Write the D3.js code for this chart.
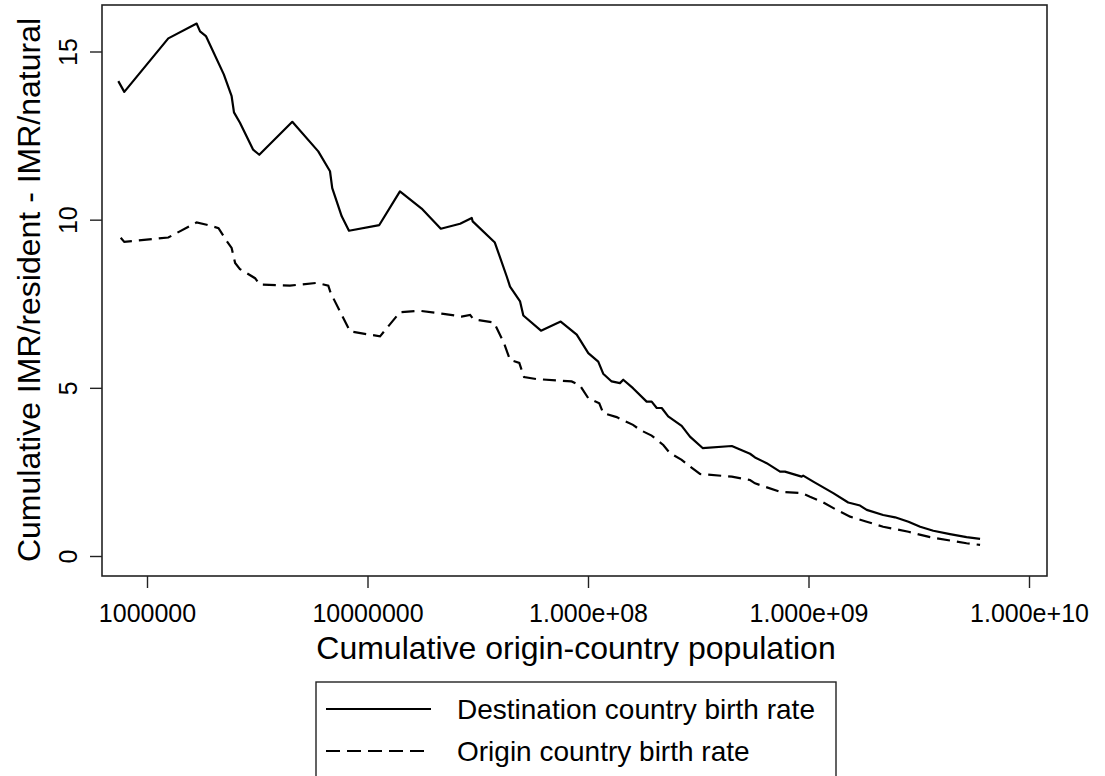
<!DOCTYPE html>
<html>
<head>
<meta charset="utf-8">
<script src="https://cdn.jsdelivr.net/npm/d3@7"></script>
<style>
  body { margin: 0; background: #fff; }
  svg { display: block; font-family: "Liberation Sans", Arial, sans-serif; }
</style>
</head>
<body>
<svg id="chart" width="1105" height="776"></svg>
<script>
// cumulative origin-country population (x) and cumulative IMR gap (y)
const destX = [7.41e5, 7.89e5, 1.249e6, 1.68e6, 1.74e6, 1.85e6, 2.23e6, 2.42e6, 2.48e6, 2.64e6,
  3.03e6, 3.23e6, 4.56e6, 5.98e6, 6.76e6, 6.92e6, 7.64e6, 8.24e6, 1.131e7, 1.403e7,
  1.76e7, 2.15e7, 2.63e7, 2.97e7, 3.0e7, 3.78e7, 4.28e7, 4.43e7, 4.92e7, 5.09e7,
  6.12e7, 7.52e7, 8.89e7, 1.003e8, 1.113e8, 1.172e8, 1.28e8, 1.396e8, 1.445e8, 1.6e8,
  1.845e8, 1.944e8, 2.05e8, 2.16e8, 2.31e8, 2.66e8, 2.9e8, 3.31e8, 4.49e8, 5.43e8,
  5.72e8, 6.46e8, 7.43e8, 7.82e8, 9.31e8, 9.46e8, 1.051e9, 1.295e9, 1.514e9, 1.713e9,
  1.837e9, 2.18e9, 2.47e9, 2.84e9, 3.21e9, 3.68e9, 4.38e9, 5.21e9, 6.0e9];
const destY = [14.12, 13.80, 15.39, 15.83, 15.60, 15.46, 14.32, 13.67, 13.19, 12.88,
  12.08, 11.93, 12.91, 12.03, 11.44, 10.94, 10.10, 9.67, 9.84, 10.84,
  10.33, 9.73, 9.88, 10.05, 9.95, 9.32, 8.31, 8.01, 7.57, 7.15,
  6.70, 6.97, 6.58, 6.03, 5.78, 5.42, 5.19, 5.14, 5.24, 4.99,
  4.59, 4.59, 4.40, 4.40, 4.15, 3.87, 3.55, 3.21, 3.27, 3.04,
  2.93, 2.76, 2.51, 2.51, 2.36, 2.39, 2.21, 1.87, 1.59, 1.50,
  1.37, 1.22, 1.15, 1.02, 0.87, 0.75, 0.65, 0.56, 0.51];

const origX = [7.6e5, 7.89e5, 1.249e6, 1.68e6, 1.865e6, 2.11e6, 2.28e6, 2.42e6, 2.51e6, 2.64e6,
  3.09e6, 3.25e6, 4.45e6, 4.94e6, 5.88e6, 6.64e6, 6.81e6, 8.33e6, 1.14e7, 1.403e7,
  1.73e7, 2.21e7, 2.67e7, 2.92e7, 3.02e7, 3.75e7, 4.16e7, 4.43e7, 4.88e7, 5.13e7,
  5.85e7, 8.43e7, 9.2e7, 1.003e8, 1.125e8, 1.172e8, 1.349e8, 1.6e8, 1.72e8, 1.944e8,
  2.195e8, 2.35e8, 2.66e8, 2.9e8, 3.22e8, 4.49e8, 5.43e8, 5.72e8, 7.43e8, 9.31e8,
  1.016e9, 1.146e9, 1.342e9, 1.545e9, 1.837e9, 2.18e9, 2.47e9, 2.84e9, 3.56e9, 4.38e9,
  5.21e9, 6.0e9];
const origY = [9.46, 9.34, 9.47, 9.92, 9.85, 9.75, 9.40, 9.16, 8.71, 8.53,
  8.26, 8.07, 8.04, 8.07, 8.12, 8.04, 7.82, 6.68, 6.53, 7.25,
  7.29, 7.20, 7.12, 7.17, 7.04, 6.94, 6.33, 5.83, 5.74, 5.32,
  5.26, 5.19, 5.07, 4.69, 4.54, 4.25, 4.13, 3.90, 3.75, 3.58,
  3.30, 3.06, 2.86, 2.66, 2.44, 2.36, 2.26, 2.16, 1.91, 1.87,
  1.76, 1.62, 1.37, 1.17, 1.02, 0.87, 0.80, 0.72, 0.56, 0.46,
  0.38, 0.33];

const xTicks = [1e6, 1e7, 1e8, 1e9, 1e10];
const yTicks = [0, 5, 10, 15];
const seriesNames = ['Destination country birth rate', 'Origin country birth rate'];

const svg = d3.select('#chart');
const box = { left: 102, right: 1047, top: 5, bottom: 576 };

const x = d3.scaleLog().domain([1e6, 1e10]).range([147, 1029]);
const y = d3.scaleLinear().domain([0, 15]).range([556, 51.5]);

const fmtX = (v) => {
  if (v < 1e8) return d3.format('d')(v);
  const e = Math.round(Math.log10(v));
  return `${(v / Math.pow(10, e)).toFixed(3)}e+${String(e).padStart(2, '0')}`;
};

// plot frame
svg.append('rect')
  .attr('x', box.left).attr('y', box.top)
  .attr('width', box.right - box.left).attr('height', box.bottom - box.top)
  .attr('fill', 'none').attr('stroke', '#222').attr('stroke-width', 1.6);

const xAxis = svg.append('g')
  .attr('transform', `translate(0,${box.bottom})`)
  .call(d3.axisBottom(x).tickValues(xTicks).tickFormat(fmtX).tickSize(12).tickSizeOuter(0));
xAxis.select('.domain').remove();
xAxis.selectAll('line').attr('stroke', '#222').attr('stroke-width', 1.4);
xAxis.selectAll('text')
  .attr('y', 28).attr('font-size', 25).attr('fill', '#000')
  .attr('font-family', '"Liberation Sans", Arial, sans-serif');

const yAxis = svg.append('g')
  .attr('transform', `translate(${box.left},0)`)
  .call(d3.axisLeft(y).tickValues(yTicks).tickSize(12).tickSizeOuter(0));
yAxis.select('.domain').remove();
yAxis.selectAll('line').attr('stroke', '#222').attr('stroke-width', 1.4);
yAxis.selectAll('text')
  .attr('x', 0).attr('dy', 0).attr('y', 0)
  .attr('text-anchor', 'middle')
  .attr('transform', 'translate(-25,0) rotate(-90)')
  .attr('font-size', 25).attr('fill', '#000')
  .attr('font-family', '"Liberation Sans", Arial, sans-serif');

// axis titles
svg.append('text')
  .attr('x', 576).attr('y', 659)
  .attr('text-anchor', 'middle').attr('font-size', 32)
  .text('Cumulative origin-country population');

svg.append('text')
  .attr('transform', 'translate(40,290) rotate(-90)')
  .attr('text-anchor', 'middle').attr('font-size', 32)
  .text('Cumulative IMR/resident - IMR/natural');

// lines
const line = d3.line().x((d) => x(d[0])).y((d) => y(d[1]));

svg.append('path')
  .datum(d3.zip(destX, destY))
  .attr('d', line)
  .attr('fill', 'none').attr('stroke', '#000').attr('stroke-width', 2.2)
  .attr('stroke-linejoin', 'round');

svg.append('path')
  .datum(d3.zip(origX, origY))
  .attr('d', line)
  .attr('fill', 'none').attr('stroke', '#000').attr('stroke-width', 2.2)
  .attr('stroke-dasharray', '13,7');

// legend
const legend = svg.append('g');
legend.append('rect')
  .attr('x', 316).attr('y', 682).attr('width', 520).attr('height', 120)
  .attr('fill', '#fff').attr('stroke', '#222').attr('stroke-width', 1.4);

seriesNames.forEach((name, i) => {
  const ly = 709 + i * 42;
  legend.append('line')
    .attr('x1', 326).attr('x2', 431).attr('y1', ly).attr('y2', ly)
    .attr('stroke', '#000').attr('stroke-width', 2.2)
    .attr('stroke-dasharray', i === 0 ? null : '14,7');
  legend.append('text')
    .attr('x', 457).attr('y', ly + 10)
    .attr('font-size', 28)
    .text(name);
});
</script>
</body>
</html>
